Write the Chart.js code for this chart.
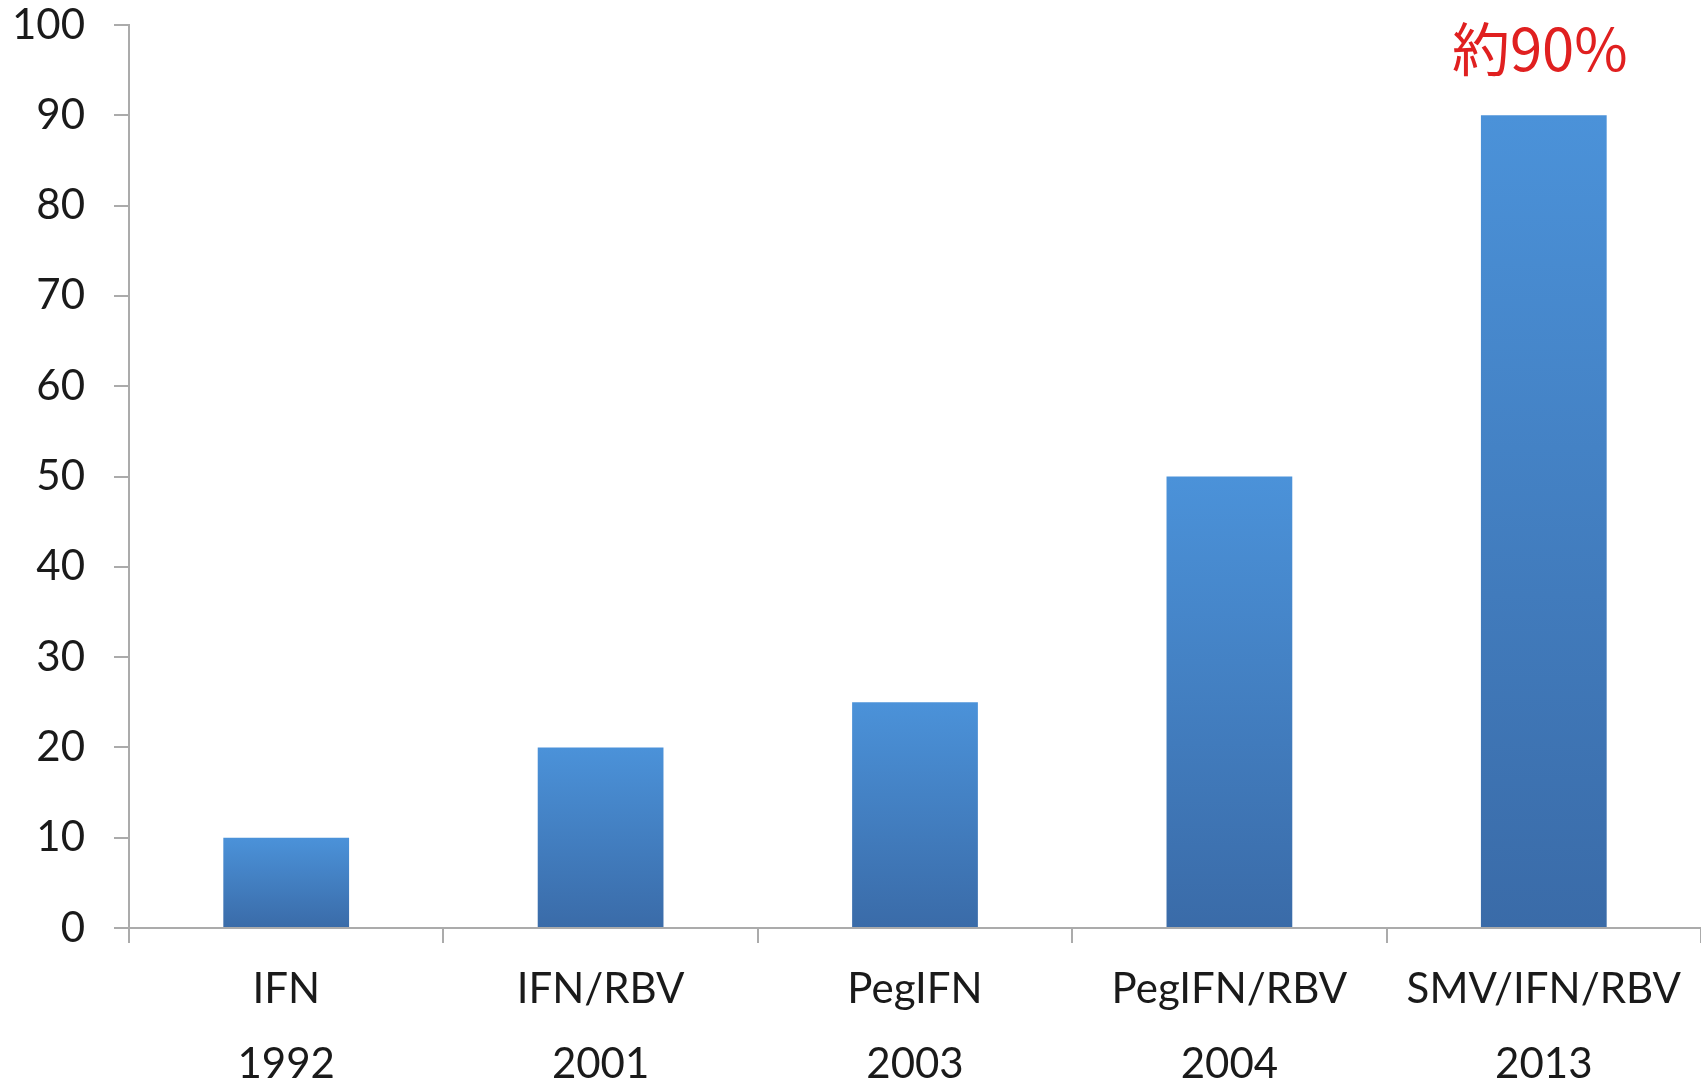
<!DOCTYPE html>
<html>
<head>
<meta charset="utf-8">
<script src="https://cdn.jsdelivr.net/npm/chart.js@4/dist/chart.umd.min.js"></script>
<style>
  html, body { margin: 0; padding: 0; background: #ffffff; }
  #wrap { width: 1701px; height: 1084px; position: relative; }
</style>
</head>
<body>
<div id="wrap"><canvas id="c"></canvas></div>
<script>
// ---- data ----
const categories = ['IFN', 'IFN/RBV', 'PegIFN', 'PegIFN/RBV', 'SMV/IFN/RBV'];
const years = ['1992', '2001', '2003', '2004', '2013'];
const rates = [10, 20, 25, 50, 90];
const yMin = 0, yMax = 100, yStep = 10;
const annotationText = '約90%';
const annotationIndex = 4;

const labels = categories.map((c, i) => [c, years[i]]);
const axisColor = '#ababab';

function barGradient(ctx) {
  const chart = ctx.chart;
  const area = chart.chartArea;
  if (!area || ctx.type !== 'data') return '#4680c4';
  const yScale = chart.scales.y;
  const top = yScale.getPixelForValue(ctx.raw);
  const bottom = yScale.getPixelForValue(0);
  const g = chart.ctx.createLinearGradient(0, top, 0, bottom);
  g.addColorStop(0, '#4b92d9');
  g.addColorStop(1, '#3a6ba8');
  return g;
}

const annotationPlugin = {
  id: 'topNote',
  afterDatasetsDraw(chart) {
    const meta = chart.getDatasetMeta(0);
    const el = meta.data[annotationIndex];
    if (!el) return;
    const c = chart.ctx;
    c.save();
    c.font = '58px "Noto Sans CJK JP", "Noto Sans", sans-serif';
    c.fillStyle = '#e02020';
    c.textAlign = 'center';
    c.textBaseline = 'middle';
    c.fillText(annotationText, el.x - 4, el.y - 66);
    c.restore();
  }
};

new Chart(document.getElementById('c'), {
  type: 'bar',
  data: {
    labels: labels,
    datasets: [{
      data: rates,
      backgroundColor: barGradient,
      borderWidth: 0,
      barPercentage: 0.4,
      categoryPercentage: 1.0
    }]
  },
  options: {
    responsive: true,
    maintainAspectRatio: false,
    animation: false,
    devicePixelRatio: 1,
    layout: { padding: { top: 1, right: 0, left: 0, bottom: 0 } },
    plugins: {
      legend: { display: false },
      tooltip: { enabled: false }
    },
    scales: {
      x: {
        afterFit(s) { s.height = 156; },
        grid: {
          offset: true,
          drawOnChartArea: false,
          drawTicks: true,
          tickLength: 15,
          color: axisColor,
          lineWidth: 2
        },
        border: { display: true, color: axisColor, width: 2 },
        ticks: {
          autoSkip: false,
          maxRotation: 0,
          minRotation: 0,
          padding: 9,
          color: '#1a1a1a',
          font: { family: 'Lato', size: 42, lineHeight: 1.79 }
        }
      },
      y: {
        min: yMin,
        max: yMax,
        afterFit(s) { s.width = 129; s.paddingTop = 25; s.paddingBottom = 0; },
        grid: {
          drawOnChartArea: false,
          drawTicks: true,
          tickLength: 15,
          color: axisColor,
          lineWidth: 2
        },
        border: { display: true, color: axisColor, width: 2 },
        ticks: {
          stepSize: yStep,
          padding: 29,
          color: '#1a1a1a',
          font: { family: 'Lato', size: 42 }
        }
      }
    }
  },
  plugins: [annotationPlugin]
});
</script>
</body>
</html>
